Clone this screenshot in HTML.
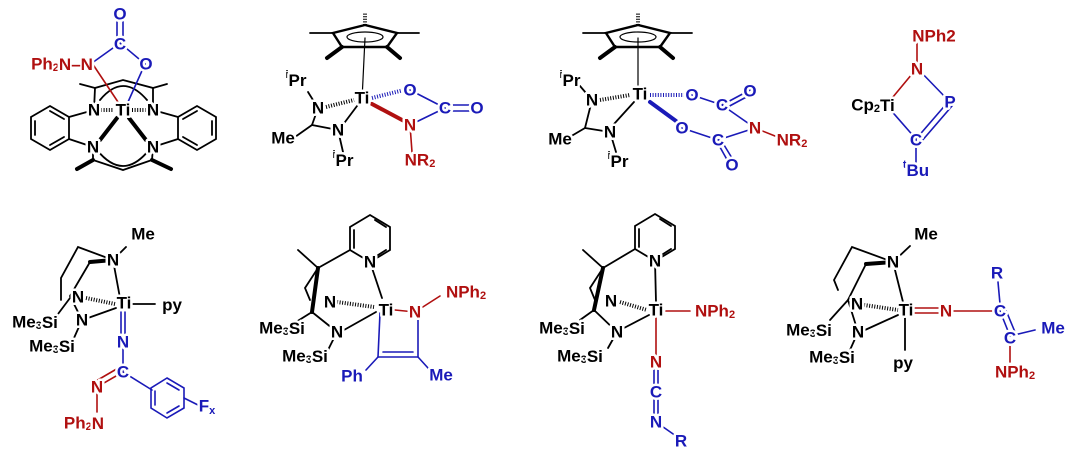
<!DOCTYPE html>
<html><head><meta charset="utf-8"><style>
html,body{margin:0;padding:0;background:#fff}
svg{display:block}
text{font-family:"Liberation Sans",Arial,sans-serif;font-weight:bold;font-size:17px;text-anchor:middle;dominant-baseline:central;paint-order:stroke;stroke:#fff;stroke-width:5px;stroke-linejoin:round}
.k{fill:#000}.r{fill:#b01010}.b{fill:#1a1ab8}
.s{font-size:11px;stroke-width:0}
line,polyline,path,polygon,ellipse{fill:none;stroke-linecap:round}
.bk{stroke:#000;stroke-width:1.8}
.rd{stroke:#b01010;stroke-width:1.6}
.bl{stroke:#1a1ab8;stroke-width:1.6}
.hk{stroke:#000;stroke-width:4;stroke-dasharray:1 1.6;stroke-linecap:butt}
.hb{stroke:#1a1ab8;stroke-width:4;stroke-dasharray:1 1.6;stroke-linecap:butt}
.wk{stroke:#000;stroke-width:4}
</style></head><body>
<svg width="1079" height="454" viewBox="0 0 1079 454" xmlns="http://www.w3.org/2000/svg">

<!-- ===== Structure 1 ===== -->
<polygon class="bk" points="50,106 69,117 69,139 50,150 31,139 31,117"/>
<line class="bk" x1="35" y1="121" x2="35" y2="135"/><line class="bk" x1="50" y1="145" x2="64" y2="137"/><line class="bk" x1="50" y1="111" x2="64" y2="119"/>
<polygon class="bk" points="197,106 216,117 216,139 197,150 178,139 178,117"/>
<line class="bk" x1="212" y1="121" x2="212" y2="135"/><line class="bk" x1="197" y1="145" x2="183" y2="137"/><line class="bk" x1="197" y1="111" x2="183" y2="119"/>
<line class="bk" x1="69" y1="117" x2="94" y2="110"/><line class="bk" x1="69" y1="139" x2="93" y2="147"/>
<line class="bk" x1="178" y1="117" x2="153" y2="110"/><line class="bk" x1="178" y1="139" x2="153" y2="147"/>
<polyline class="bk" points="94,110 95,88 123,80 153,88 153,110"/>
<line class="bk" x1="95" y1="88" x2="80" y2="84"/><line class="bk" x1="153" y1="88" x2="167" y2="84"/>
<path class="bk" d="M100,100 Q123,72 147,100"/>
<polyline class="bk" points="93,147 93,160 123,170 152,160 153,147"/>
<line class="wk" x1="93" y1="160" x2="77" y2="169"/><line class="wk" x1="152" y1="160" x2="171" y2="169"/>
<path class="bk" d="M97,150 Q123,182 149,150"/>
<line class="hk" x1="101" y1="110" x2="114" y2="110"/><line class="hk" x1="132" y1="110" x2="146" y2="110"/>
<line class="wk" x1="117" y1="118" x2="100" y2="140"/><line class="wk" x1="129" y1="118" x2="146" y2="140"/>
<line class="rd" x1="92" y1="63" x2="118" y2="102"/>
<line class="bl" x1="145" y1="64" x2="128" y2="102"/>
<line class="bl" x1="92" y1="63" x2="120" y2="43"/><line class="bl" x1="120" y1="43" x2="145" y2="64"/>
<line class="bl" x1="117" y1="43" x2="117" y2="15"/><line class="bl" x1="123" y1="43" x2="123" y2="15"/>
<text class="b" x="120" y="14">O</text><text class="b" x="120" y="44">C</text><text class="b" x="146" y="64">O</text>
<text class="r" x="62" y="64">Ph<tspan class="s" dy="4">2</tspan><tspan dy="-4">N–N</tspan></text>
<text class="k" x="94" y="110">N</text><text class="k" x="123" y="110">Ti</text><text class="k" x="153" y="110">N</text>
<text class="k" x="93" y="147">N</text><text class="k" x="153" y="147">N</text>

<!-- ===== Structure 2 ===== -->
<g>
<polygon class="bk" points="365,25 333,33 342,47 387,47 397,33" style="stroke-width:2.4"/>
<ellipse class="bk" cx="365" cy="37" rx="18" ry="5" style="stroke-width:1.2"/>
<line class="hk" x1="365" y1="25" x2="365" y2="12"/>
<line class="bk" x1="333" y1="33" x2="310" y2="33"/><line class="bk" x1="397" y1="33" x2="419" y2="33"/>
<line class="wk" x1="342" y1="47" x2="327" y2="58"/><line class="wk" x1="387" y1="47" x2="400" y2="58"/>
<line class="bk" x1="365" y1="38" x2="362" y2="100" style="stroke-width:1.2"/>
</g>
<line class="hk" x1="326" y1="107" x2="354" y2="100"/>
<line class="bk" x1="357" y1="106" x2="339" y2="130"/>
<line class="bk" x1="318" y1="108" x2="308" y2="92"/>
<line class="bk" x1="318" y1="108" x2="312" y2="125"/><line class="bk" x1="312" y1="125" x2="338" y2="130"/>
<line class="bk" x1="312" y1="125" x2="295" y2="137"/>
<line class="bk" x1="338" y1="130" x2="343" y2="152"/>
<line class="hb" x1="372" y1="98" x2="404" y2="90"/>
<line class="wk" x1="372" y1="104" x2="404" y2="121" style="stroke:#b01010"/>
<line class="bl" x1="410" y1="90" x2="445" y2="108"/><line class="bl" x1="410" y1="125" x2="445" y2="108"/>
<line class="bl" x1="445" y1="105" x2="475" y2="105"/><line class="bl" x1="445" y1="111" x2="475" y2="111"/>
<line class="rd" x1="410" y1="125" x2="412" y2="152"/>
<text class="k" x="296" y="80"><tspan class="s" dy="-5">i</tspan><tspan dy="5">Pr</tspan></text>
<text class="k" x="318" y="108">N</text><text class="k" x="362" y="98">Ti</text>
<text class="k" x="283" y="138">Me</text><text class="k" x="338" y="130">N</text>
<text class="k" x="343" y="160"><tspan class="s" dy="-5">i</tspan><tspan dy="5">Pr</tspan></text>
<text class="b" x="410" y="90">O</text><text class="b" x="445" y="108">C</text><text class="b" x="477" y="108">O</text>
<text class="r" x="410" y="125">N</text><text class="r" x="420" y="160">NR<tspan class="s" dy="4">2</tspan></text>

<!-- ===== Structure 3 ===== -->
<g transform="translate(273,0)">
<polygon class="bk" points="365,25 333,33 342,47 387,47 397,33" style="stroke-width:2.4"/>
<ellipse class="bk" cx="365" cy="37" rx="18" ry="5" style="stroke-width:1.2"/>
<line class="hk" x1="365" y1="25" x2="365" y2="12"/>
<line class="bk" x1="333" y1="33" x2="310" y2="33"/><line class="bk" x1="397" y1="33" x2="419" y2="33"/>
<line class="wk" x1="342" y1="47" x2="327" y2="58"/><line class="wk" x1="387" y1="47" x2="400" y2="58"/>
<line class="bk" x1="365" y1="38" x2="365" y2="93" style="stroke-width:1.2"/>
</g>
<line class="hk" x1="600" y1="100" x2="630" y2="95"/>
<line class="bk" x1="634" y1="102" x2="614" y2="124"/>
<line class="bk" x1="592" y1="100" x2="580" y2="86"/>
<line class="bk" x1="592" y1="100" x2="585" y2="128"/><line class="bk" x1="585" y1="128" x2="610" y2="132"/>
<line class="bk" x1="585" y1="128" x2="568" y2="138"/>
<line class="bk" x1="610" y1="132" x2="616" y2="152"/>
<line class="hb" x1="650" y1="95" x2="685" y2="95"/>
<line class="wk" x1="650" y1="102" x2="676" y2="121" style="stroke:#1a1ab8"/>
<line class="bl" x1="692" y1="95" x2="722" y2="105"/><line class="bl" x1="722" y1="105" x2="750" y2="90"/>
<line class="bl" x1="724" y1="109" x2="752" y2="94"/>
<line class="bl" x1="722" y1="105" x2="755" y2="128"/>
<line class="bl" x1="682" y1="128" x2="718" y2="140"/><line class="bl" x1="718" y1="140" x2="755" y2="128"/>
<line class="bl" x1="716" y1="140" x2="730" y2="165"/><line class="bl" x1="721" y1="140" x2="735" y2="163"/>
<line class="rd" x1="755" y1="128" x2="775" y2="136"/>
<text class="k" x="570" y="80"><tspan class="s" dy="-5">i</tspan><tspan dy="5">Pr</tspan></text>
<text class="k" x="592" y="100">N</text><text class="k" x="640" y="94">Ti</text>
<text class="k" x="560" y="139">Me</text><text class="k" x="610" y="132">N</text>
<text class="k" x="618" y="161"><tspan class="s" dy="-5">i</tspan><tspan dy="5">Pr</tspan></text>
<text class="b" x="692" y="95">O</text><text class="b" x="722" y="105">C</text><text class="b" x="750" y="91">O</text>
<text class="b" x="682" y="128">O</text><text class="b" x="718" y="140">C</text><text class="b" x="732" y="165">O</text>
<text class="r" x="755" y="128">N</text><text class="r" x="792" y="140">NR<tspan class="s" dy="4">2</tspan></text>

<!-- ===== Structure 4 ===== -->
<line class="rd" x1="917" y1="38" x2="917" y2="68"/>
<line class="rd" x1="917" y1="68" x2="888" y2="103"/>
<line class="bl" x1="917" y1="68" x2="948" y2="100"/>
<line class="bl" x1="888" y1="107" x2="916" y2="139"/>
<line class="bl" x1="916" y1="139" x2="948" y2="102"/><line class="bl" x1="921" y1="142" x2="952" y2="106"/>
<line class="bl" x1="916" y1="139" x2="916" y2="162"/>
<text class="r" x="934" y="36">NPh2</text>
<text class="r" x="917" y="69">N</text>
<text class="k" x="873" y="105">Cp<tspan class="s" dy="4">2</tspan><tspan dy="-4">Ti</tspan></text>
<text class="b" x="950" y="102">P</text><text class="b" x="916" y="140">C</text>
<text class="b" x="916" y="170"><tspan class="s" dy="-5">t</tspan><tspan dy="5">Bu</tspan></text>

<!-- ===== Structure 5 ===== -->
<line class="bk" x1="113" y1="260" x2="126" y2="247"/>
<polyline class="bk" points="113,260 78,247 61,278 61,300"/>
<path class="wk" d="M113,260 L90,262" />
<polyline class="bk" points="90,262 70,296 82,320"/>
<line class="bk" x1="113" y1="260" x2="120" y2="298"/>
<line class="hk" x1="86" y1="298" x2="115" y2="304"/>
<line class="bk" x1="88" y1="318" x2="116" y2="308"/>
<line class="bk" x1="131" y1="304" x2="155" y2="304"/>
<line class="bk" x1="82" y1="320" x2="74" y2="338"/>
<line class="bk" x1="70" y1="298" x2="55" y2="318"/>
<line class="bl" x1="121" y1="312" x2="121" y2="336"/><line class="bl" x1="125" y1="312" x2="125" y2="336"/>
<line class="bl" x1="123" y1="342" x2="123" y2="372"/>
<line class="rd" x1="123" y1="372" x2="97" y2="387"/><line class="rd" x1="120" y1="367" x2="96" y2="381"/>
<line class="rd" x1="97" y1="387" x2="97" y2="412"/>
<line class="bl" x1="123" y1="372" x2="152" y2="390"/>
<polygon class="bl" points="167,378 184,388 184,408 167,418 151,408 151,388"/>
<line class="bl" x1="155" y1="391" x2="155" y2="405"/><line class="bl" x1="167" y1="413" x2="179" y2="406"/><line class="bl" x1="167" y1="383" x2="179" y2="390"/>
<line class="bl" x1="184" y1="398" x2="198" y2="405"/>
<text class="k" x="143" y="234">Me</text><text class="k" x="113" y="260">N</text>
<text class="k" x="124" y="303">Ti</text><text class="k" x="172" y="305">py</text>
<text class="k" x="78" y="297">N</text><text class="k" x="82" y="320">N</text>
<text class="k" x="35" y="322">Me<tspan class="s" dy="4">3</tspan><tspan dy="-4">Si</tspan></text>
<text class="k" x="52" y="346">Me<tspan class="s" dy="4">3</tspan><tspan dy="-4">Si</tspan></text>
<text class="b" x="123" y="342">N</text><text class="b" x="123" y="372">C</text>
<text class="r" x="97" y="387">N</text>
<text class="r" x="84" y="423">Ph<tspan class="s" dy="4">2</tspan><tspan dy="-4">N</tspan></text>
<text class="b" x="207" y="406">F<tspan class="s" dy="5">x</tspan></text>

<!-- ===== Structure 6 ===== -->
<polygon class="bk" points="370,215 390,227 390,250 370,262 350,250 350,227"/>
<line class="bk" x1="375" y1="220" x2="386" y2="227"/><line class="bk" x1="354" y1="230" x2="354" y2="248"/><line class="bk" x1="375" y1="257" x2="386" y2="250"/>
<line class="bk" x1="350" y1="250" x2="318" y2="268"/><line class="bk" x1="318" y1="268" x2="298" y2="250"/>
<polyline class="bk" points="318,268 305,288 310,300"/>
<line class="wk" x1="318" y1="268" x2="312" y2="312"/>
<line class="bk" x1="312" y1="312" x2="337" y2="332"/>
<line class="bk" x1="370" y1="262" x2="382" y2="298"/>
<line class="hk" x1="337" y1="302" x2="374" y2="307"/>
<line class="bk" x1="344" y1="330" x2="376" y2="312"/>
<line class="bk" x1="312" y1="312" x2="296" y2="322"/>
<line class="bk" x1="337" y1="332" x2="328" y2="350"/>
<line class="rd" x1="395" y1="310" x2="415" y2="312"/>
<line class="rd" x1="415" y1="312" x2="440" y2="296"/>
<line class="bl" x1="380" y1="313" x2="378" y2="357"/>
<line class="bl" x1="418" y1="318" x2="418" y2="357"/>
<line class="bl" x1="378" y1="357" x2="418" y2="357"/><line class="bl" x1="383" y1="352" x2="413" y2="352"/>
<line class="bl" x1="378" y1="357" x2="366" y2="370"/><line class="bl" x1="418" y1="357" x2="428" y2="368"/>
<text class="k" x="370" y="262">N</text><text class="k" x="386" y="310">Ti</text>
<text class="k" x="330" y="302">N</text><text class="k" x="337" y="332">N</text>
<text class="k" x="282" y="328">Me<tspan class="s" dy="4">3</tspan><tspan dy="-4">Si</tspan></text>
<text class="k" x="305" y="356">Me<tspan class="s" dy="4">3</tspan><tspan dy="-4">Si</tspan></text>
<text class="r" x="415" y="312">N</text>
<text class="r" x="466" y="292">NPh<tspan class="s" dy="4">2</tspan></text>
<text class="b" x="352" y="376">Ph</text><text class="b" x="441" y="375">Me</text>

<!-- ===== Structure 7 ===== -->
<polygon class="bk" points="655,214 675,226 675,249 655,261 635,249 635,226"/>
<line class="bk" x1="660" y1="219" x2="671" y2="226"/><line class="bk" x1="639" y1="229" x2="639" y2="247"/><line class="bk" x1="660" y1="256" x2="671" y2="249"/>
<line class="bk" x1="635" y1="249" x2="603" y2="268"/><line class="bk" x1="603" y1="268" x2="583" y2="250"/>
<polyline class="bk" points="603,268 590,288 595,300"/>
<line class="wk" x1="603" y1="268" x2="594" y2="310"/>
<line class="bk" x1="594" y1="310" x2="617" y2="332"/>
<line class="bk" x1="655" y1="261" x2="656" y2="302"/>
<line class="hk" x1="620" y1="302" x2="647" y2="310"/>
<line class="bk" x1="624" y1="328" x2="649" y2="315"/>
<line class="bk" x1="594" y1="310" x2="580" y2="320"/>
<line class="bk" x1="617" y1="332" x2="608" y2="348"/>
<line class="rd" x1="666" y1="311" x2="690" y2="311"/>
<line class="rd" x1="656" y1="318" x2="656" y2="355"/>
<line class="bl" x1="654" y1="368" x2="654" y2="386"/><line class="bl" x1="658" y1="368" x2="658" y2="386"/>
<line class="bl" x1="654" y1="398" x2="654" y2="416"/><line class="bl" x1="658" y1="398" x2="658" y2="416"/>
<line class="bl" x1="656" y1="422" x2="676" y2="436"/>
<text class="k" x="655" y="261">N</text><text class="k" x="656" y="310">Ti</text>
<text class="k" x="611" y="301">N</text><text class="k" x="617" y="332">N</text>
<text class="k" x="562" y="328">Me<tspan class="s" dy="4">3</tspan><tspan dy="-4">Si</tspan></text>
<text class="k" x="580" y="356">Me<tspan class="s" dy="4">3</tspan><tspan dy="-4">Si</tspan></text>
<text class="r" x="715" y="311">NPh<tspan class="s" dy="4">2</tspan></text>
<text class="r" x="656" y="362">N</text><text class="b" x="656" y="392">C</text>
<text class="b" x="656" y="422">N</text><text class="b" x="681" y="441">R</text>

<!-- ===== Structure 8 ===== -->
<line class="bk" x1="893" y1="262" x2="910" y2="246"/>
<polyline class="bk" points="893,262 852,247 834,280 838,290"/>
<path class="wk" d="M893,262 L866,264"/>
<polyline class="bk" points="866,264 848,300 858,332"/>
<line class="bk" x1="893" y1="262" x2="903" y2="302"/>
<line class="hk" x1="864" y1="305" x2="898" y2="310"/>
<line class="bk" x1="865" y1="330" x2="898" y2="315"/>
<line class="bk" x1="848" y1="300" x2="830" y2="320"/>
<line class="bk" x1="858" y1="332" x2="850" y2="350"/>
<line class="bk" x1="905" y1="318" x2="905" y2="350"/>
<line class="rd" x1="915" y1="308" x2="940" y2="308"/><line class="rd" x1="915" y1="313" x2="940" y2="313"/>
<line class="rd" x1="952" y1="311" x2="993" y2="311"/>
<line class="bl" x1="1000" y1="304" x2="998" y2="282"/>
<line class="bl" x1="1000" y1="311" x2="1010" y2="336"/><line class="bl" x1="1005" y1="308" x2="1015" y2="332"/>
<line class="bl" x1="1010" y1="336" x2="1035" y2="330"/>
<line class="rd" x1="1010" y1="342" x2="1010" y2="362"/>
<text class="k" x="926" y="234">Me</text><text class="k" x="893" y="262">N</text>
<text class="k" x="906" y="310">Ti</text>
<text class="k" x="857" y="304">N</text><text class="k" x="858" y="332">N</text>
<text class="k" x="809" y="330">Me<tspan class="s" dy="4">3</tspan><tspan dy="-4">Si</tspan></text>
<text class="k" x="832" y="357">Me<tspan class="s" dy="4">3</tspan><tspan dy="-4">Si</tspan></text>
<text class="k" x="903" y="363">py</text>
<text class="r" x="946" y="311">N</text>
<text class="b" x="997" y="273">R</text><text class="b" x="1000" y="311">C</text>
<text class="b" x="1010" y="338">C</text><text class="b" x="1053" y="328">Me</text>
<text class="r" x="1015" y="372">NPh<tspan class="s" dy="4">2</tspan></text>
</svg>
</body></html>
